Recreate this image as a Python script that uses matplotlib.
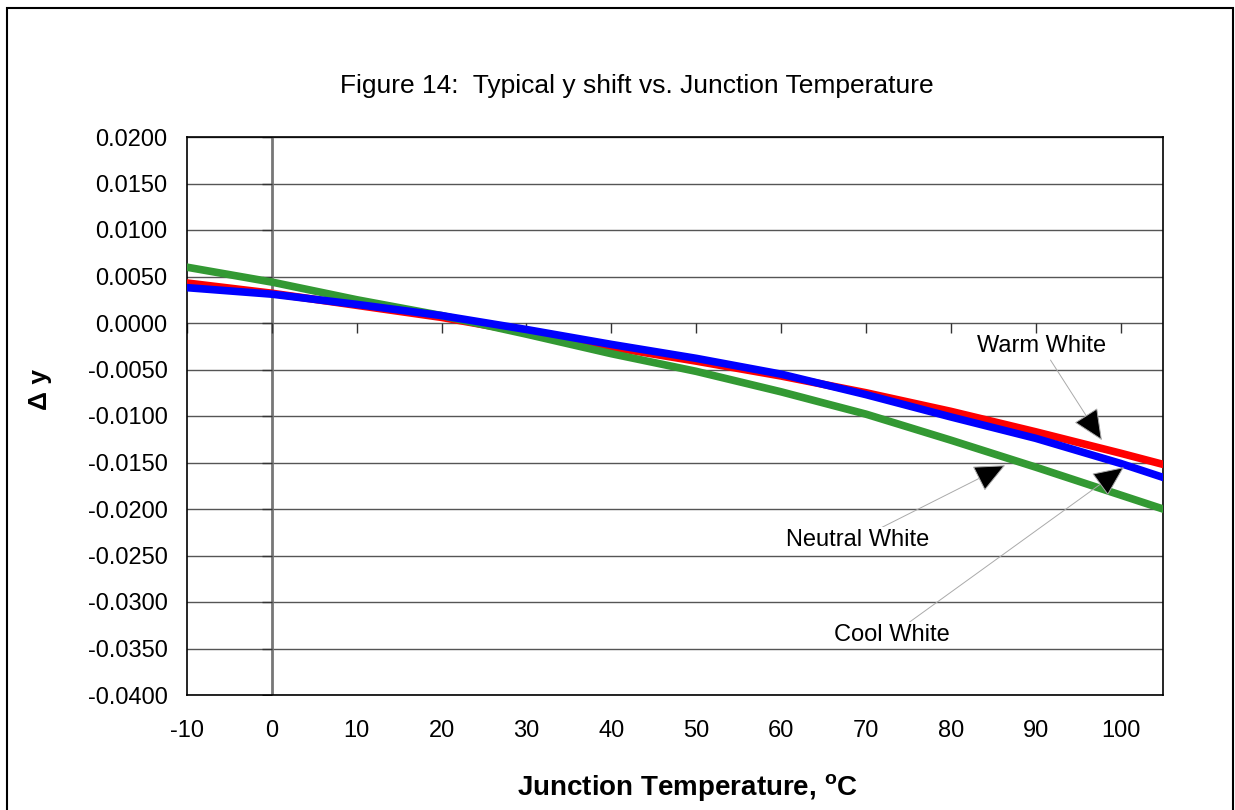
import numpy as np
import matplotlib
matplotlib.use('Agg')
import matplotlib.pyplot as plt
from matplotlib.patches import Rectangle

plt.rcParams['font.family'] = ['Liberation Sans', 'DejaVu Sans']
plt.rcParams['mathtext.fontset'] = 'custom'
plt.rcParams['mathtext.rm'] = 'Liberation Sans'
plt.rcParams['mathtext.bf'] = 'Liberation Sans:bold'
plt.rcParams['axes.unicode_minus'] = False

# Temperaturas de juntura (C)
temp = [-10, 0, 10, 20, 30, 40, 50, 60, 70, 80, 90, 100, 105]
# Desplazamiento de y para cada tipo de LED
warm = [0.0043, 0.0032, 0.0019, 0.0006, -0.0010, -0.0026, -0.0041, -0.0057,
        -0.0075, -0.0095, -0.0117, -0.0140, -0.0152]
neutral = [0.0038, 0.0031, 0.0020, 0.0008, -0.0007, -0.0023, -0.0038, -0.0055,
           -0.0077, -0.0101, -0.0124, -0.0151, -0.0166]
cool = [0.0060, 0.0044, 0.0025, 0.0008, -0.0012, -0.0033, -0.0052, -0.0074,
        -0.0098, -0.0126, -0.0155, -0.0185, -0.0200]

xticks = np.arange(-10, 101, 10)
yticks = np.round(np.arange(-0.04, 0.0201, 0.005), 4)

fig = plt.figure(figsize=(12.35, 8.10), dpi=100)
ax = fig.add_axes([187/1235, 1-695/810, (1163-187)/1235, (695-137)/810])

# grilla horizontal y ejes en cero
for yv in yticks:
    ax.axhline(yv, color='#555555', lw=1.0, zorder=1)
ax.axvline(0, color='#777777', lw=2.0, zorder=1)
ax.plot(xticks, np.zeros(len(xticks)), ls='none', marker=3, ms=7, mew=1.0,
        color='#333333', zorder=2)
ax.plot(np.zeros(len(yticks)), yticks, ls='none', marker=0, ms=7, mew=1.0,
        color='#333333', zorder=2)

ax.plot(temp, warm, color='#ff0000', lw=5.5, zorder=3)
ax.plot(temp, neutral, color='#0000ff', lw=5.5, zorder=4)
ax.plot(temp, cool, color='#339933', lw=5.5, zorder=3)

ax.set_xlim(-10, 105)
ax.set_ylim(-0.04, 0.02)
ax.set_xticks(xticks)
ax.set_yticks(yticks)
ax.set_yticklabels(['%.4f' % (v + 0.0) if abs(v) > 1e-9 else '0.0000' for v in yticks])
ax.tick_params(length=0, labelsize=17, pad=14)
ax.tick_params(axis='x', pad=18)
for s in ax.spines.values():
    s.set_color('black')
    s.set_linewidth(1.2)

arrow = dict(arrowstyle='-|>,head_length=1.0,head_width=0.45', facecolor='black',
             edgecolor='#aaaaaa', lw=0.7, mutation_scale=20, shrinkA=0, shrinkB=0)
ax.annotate('Warm White', xy=(97.8, -0.0126), xytext=(90.7, -0.0025),
            fontsize=17, ha='center', va='center', arrowprops=arrow, zorder=6)
ax.annotate('Neutral White', xy=(86.4, -0.0153), xytext=(69.0, -0.0233),
            fontsize=17, ha='center', va='center', arrowprops=arrow, zorder=6,
            bbox=dict(fc='white', ec='none', pad=1))
ax.annotate('Cool White', xy=(100.4, -0.0155), xytext=(73.1, -0.0335),
            fontsize=17, ha='center', va='center', arrowprops=arrow, zorder=6,
            bbox=dict(fc='white', ec='none', pad=1))

fig.text(637/1235, 1-86/810, 'Figure 14:  Typical y shift vs. Junction Temperature',
         ha='center', va='center', fontsize=19)
fig.text(688/1235, 1-788/810, r'Junction Temperature, $^{\mathbf{o}}$C',
         ha='center', va='center', fontsize=20, fontweight='bold')
fig.text(40/1235, 1-390/810, '\u0394 y', ha='center', va='center', rotation=90,
         fontsize=19, fontweight='bold')

fig.patches.append(Rectangle((7/1235, -0.01), 1226/1235, 1-8/810+0.01,
                             transform=fig.transFigure, fill=False,
                             ec='black', lw=1.5))

plt.savefig('out.png', dpi=100)
